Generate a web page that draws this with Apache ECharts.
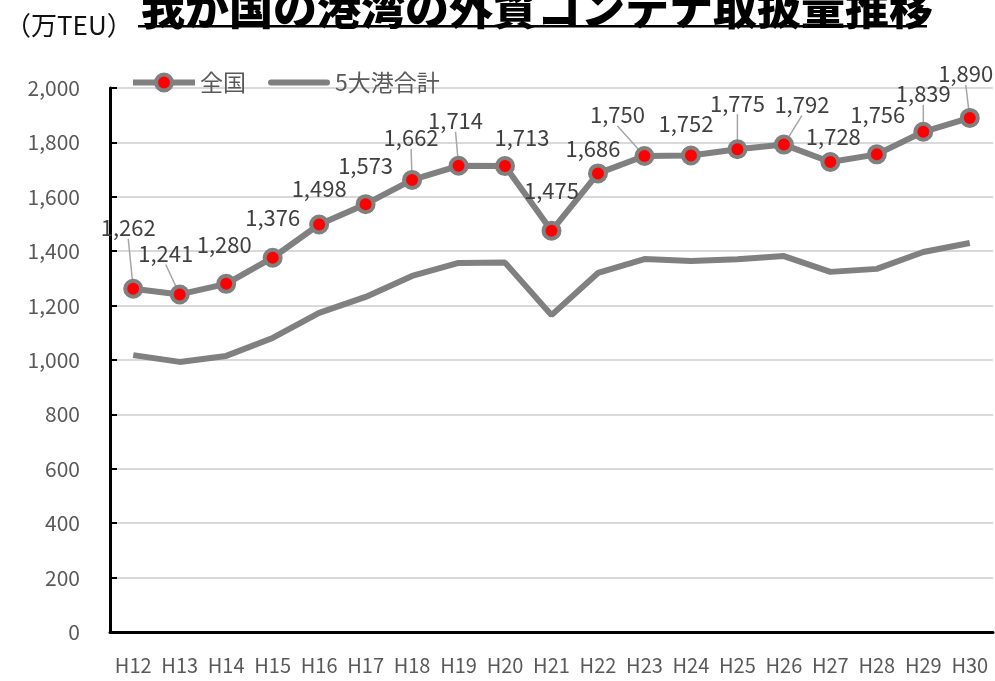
<!DOCTYPE html>
<html>
<head>
<meta charset="utf-8">
<script src="https://cdn.jsdelivr.net/npm/echarts@6/dist/echarts.min.js"></script>
<style>
html,body{margin:0;padding:0;background:#fff;}
#chart{width:995px;height:681px;}
</style>
</head>
<body>
<div id="chart"></div>
<script>
// ---- data ----
var categories = ['H12','H13','H14','H15','H16','H17','H18','H19','H20','H21','H22','H23','H24','H25','H26','H27','H28','H29','H30'];
var allJapan = [1262,1241,1280,1376,1498,1573,1662,1714,1713,1475,1686,1750,1752,1775,1792,1728,1756,1839,1890];
var top5Ports = [1018,993,1015,1081,1173,1232,1309,1357,1358,1165,1320,1371,1364,1370,1382,1324,1335,1397,1430];
var yTicks = {min:0, max:2000, interval:200};

// ---- label placement (styles) ----
var labelDx = [-5,-14,-2,0,0,0,-1,-3,17,0,-5,-27,-5,0,18,3,1,0,-4];
var labelDy = [-35,-15,-13,-14,-10,-13,-16,-19,-2,-14,1,-15,-6,-20,-14,1,-14,-12,-18];
var leader = [1,1,0,0,0,0,1,1,0,0,0,1,0,1,1,0,0,1,1];

var fmt = function(v){ return Number(v).toLocaleString('en-US'); };

var chart = echarts.init(document.getElementById('chart'));
var font = "'Noto Sans CJK JP','Noto Sans',sans-serif";

var allData = allJapan.map(function(v,i){
  return { value: v, labelLine: { show: !!leader[i] } };
});

chart.setOption({
  animation: false,
  textStyle: { fontFamily: font },
  title: [
    { text: '（万TEU）', left: 0, top: 7,
      textStyle: { fontSize: 26, fontWeight: 'normal', color: '#111', fontFamily: font } },
    { text: '我が国の港湾の外貿コンテナ取扱量推移', left: 136, top: -19,
      textStyle: { fontSize: 44, fontWeight: 900, color: '#000', fontFamily: font } }
  ],
  graphic: [
    { type: 'rect', shape: { x: 138, y: 25, width: 789, height: 2.5 }, style: { fill: '#000' } }
  ],
  legend: {
    left: 125, top: 66,
    itemWidth: 62, itemHeight: 20, itemGap: 22,
    textStyle: { fontSize: 23, color: '#595959', fontFamily: font },
    lineStyle: { width: 6 },
    data: [
      { name: '全国', itemStyle: { borderWidth: 4, borderColor: '#808080', color: '#ff0000' } },
      { name: '5大港合計', icon: 'path://M3,0 L59,0 A3,3 0 0 1 59,6 L3,6 A3,3 0 0 1 3,0 Z',
        itemStyle: { color: '#808080', borderWidth: 0 } }
    ]
  },
  grid: { left: 110, right: 2, top: 88, bottom: 49, containLabel: false },
  xAxis: {
    type: 'category',
    data: categories,
    boundaryGap: true,
    axisLine: { lineStyle: { color: '#000', width: 3 } },
    axisTick: { inside: true, length: 8, interval: 0, lineStyle: { color: '#000', width: 2 } },
    axisLabel: { interval: 0, margin: 23, fontSize: 20, color: '#595959', fontFamily: font }
  },
  yAxis: {
    type: 'value',
    min: yTicks.min, max: yTicks.max, interval: yTicks.interval,
    axisLine: { show: true, lineStyle: { color: '#000', width: 3 } },
    axisTick: { show: true, inside: true, length: 7, lineStyle: { color: '#000', width: 2 } },
    splitLine: { lineStyle: { color: '#d9d9d9', width: 2 } },
    axisLabel: { margin: 30, fontSize: 21, color: '#595959', fontFamily: font,
      formatter: function(v){ return fmt(v); } }
  },
  series: [
    {
      name: '5大港合計', type: 'line', data: top5Ports,
      symbol: 'none', z: 2,
      lineStyle: { color: '#808080', width: 6 },
      itemStyle: { color: '#808080' }
    },
    {
      name: '全国', type: 'line', data: allData,
      symbol: 'circle', symbolSize: 16, z: 3,
      lineStyle: { color: '#808080', width: 6 },
      itemStyle: { color: '#ff0000', borderColor: '#808080', borderWidth: 4 },
      label: { show: true, position: 'top', distance: 5, fontSize: 22, color: '#404040',
        fontFamily: font, formatter: function(p){ return fmt(p.value); } },
      labelLine: { show: true, lineStyle: { color: '#a6a6a6', width: 1.5 } },
      labelLayout: function(p){ return { dx: labelDx[p.dataIndex], dy: labelDy[p.dataIndex] }; }
    }
  ]
});
</script>
</body>
</html>
